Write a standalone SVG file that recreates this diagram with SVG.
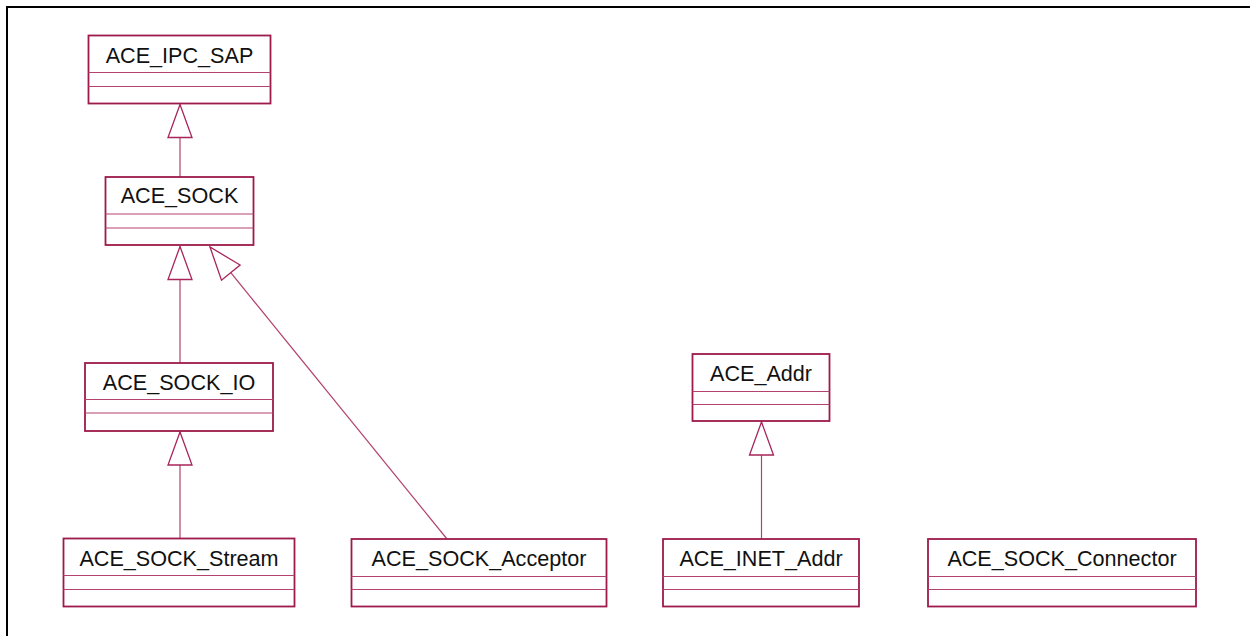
<svg xmlns="http://www.w3.org/2000/svg" width="1250" height="636" viewBox="0 0 1250 636">
  <style>
    .cls rect.box { fill: #ffffff; stroke: #9e1a4a; stroke-width: 1.8; }
    .cls line.div { stroke: #b3426f; stroke-width: 1; }
    .cls text { font-family: "Liberation Sans", Arial, sans-serif; font-size: 21.6px; fill: #111111; text-anchor: middle; }
    .links line { stroke: #b3426f; stroke-width: 1.2; fill: none; marker-end: url(#gen); }
  </style>
  <defs>
    <!-- hollow generalization triangle, tip on the parent class -->
    <marker id="gen" markerUnits="userSpaceOnUse" viewBox="-35 -14 37 28" markerWidth="37" markerHeight="28" refX="0" refY="0" orient="auto">
      <path d="M0,0 L-33,-12 L-33,12 Z" fill="#ffffff" stroke="#a8245a" stroke-width="1.3"/>
    </marker>
  </defs>

  <rect x="0" y="0" width="1250" height="636" fill="#ffffff"/>
  <!-- page frame -->
  <rect x="7" y="7" width="1260" height="660" fill="none" stroke="#000000" stroke-width="2"/>

  <!-- inheritance connectors -->
  <g id="connectors" class="links">
    <line x1="180" y1="177" x2="180" y2="104.5"/>
    <line x1="180" y1="363" x2="180" y2="246.5"/>
    <line x1="447" y1="539" x2="210" y2="247"/>
    <line x1="180" y1="538.5" x2="180" y2="432"/>
    <line x1="761.5" y1="539" x2="761.5" y2="422"/>
  </g>

  <g id="ACE_IPC_SAP" class="cls">
    <rect class="box" x="88.5" y="35.5" width="182" height="68"/>
    <line class="div" x1="88.5" y1="72.5" x2="270.5" y2="72.5"/>
    <line class="div" x1="88.5" y1="86.5" x2="270.5" y2="86.5"/>
    <text x="179.5" y="62.5">ACE_IPC_SAP</text>
  </g>

  <g id="ACE_SOCK" class="cls">
    <rect class="box" x="105.5" y="177" width="148" height="68"/>
    <line class="div" x1="105.5" y1="214" x2="253.5" y2="214"/>
    <line class="div" x1="105.5" y1="228" x2="253.5" y2="228"/>
    <text x="179.5" y="202.5">ACE_SOCK</text>
  </g>

  <g id="ACE_SOCK_IO" class="cls">
    <rect class="box" x="85" y="363" width="188" height="68"/>
    <line class="div" x1="85" y1="399.5" x2="273" y2="399.5"/>
    <line class="div" x1="85" y1="413" x2="273" y2="413"/>
    <text x="179" y="390">ACE_SOCK_IO</text>
  </g>

  <g id="ACE_SOCK_Stream" class="cls">
    <rect class="box" x="63.5" y="538.5" width="231" height="68"/>
    <line class="div" x1="63.5" y1="575.5" x2="294.5" y2="575.5"/>
    <line class="div" x1="63.5" y1="589.5" x2="294.5" y2="589.5"/>
    <text x="179" y="565.5">ACE_SOCK_Stream</text>
  </g>

  <g id="ACE_SOCK_Acceptor" class="cls">
    <rect class="box" x="351.5" y="539" width="255" height="67.5"/>
    <line class="div" x1="351.5" y1="576.5" x2="606.5" y2="576.5"/>
    <line class="div" x1="351.5" y1="589.5" x2="606.5" y2="589.5"/>
    <text x="479" y="566">ACE_SOCK_Acceptor</text>
  </g>

  <g id="ACE_Addr" class="cls">
    <rect class="box" x="692.5" y="354" width="137" height="67"/>
    <line class="div" x1="692.5" y1="391.5" x2="829.5" y2="391.5"/>
    <line class="div" x1="692.5" y1="404.5" x2="829.5" y2="404.5"/>
    <text x="761" y="381">ACE_Addr</text>
  </g>

  <g id="ACE_INET_Addr" class="cls">
    <rect class="box" x="663" y="539" width="196" height="67.5"/>
    <line class="div" x1="663" y1="576.5" x2="859" y2="576.5"/>
    <line class="div" x1="663" y1="589.5" x2="859" y2="589.5"/>
    <text x="761" y="566">ACE_INET_Addr</text>
  </g>

  <g id="ACE_SOCK_Connector" class="cls">
    <rect class="box" x="928" y="539" width="268" height="67.5"/>
    <line class="div" x1="928" y1="576.5" x2="1196" y2="576.5"/>
    <line class="div" x1="928" y1="589.5" x2="1196" y2="589.5"/>
    <text x="1062" y="566">ACE_SOCK_Connector</text>
  </g>
</svg>
